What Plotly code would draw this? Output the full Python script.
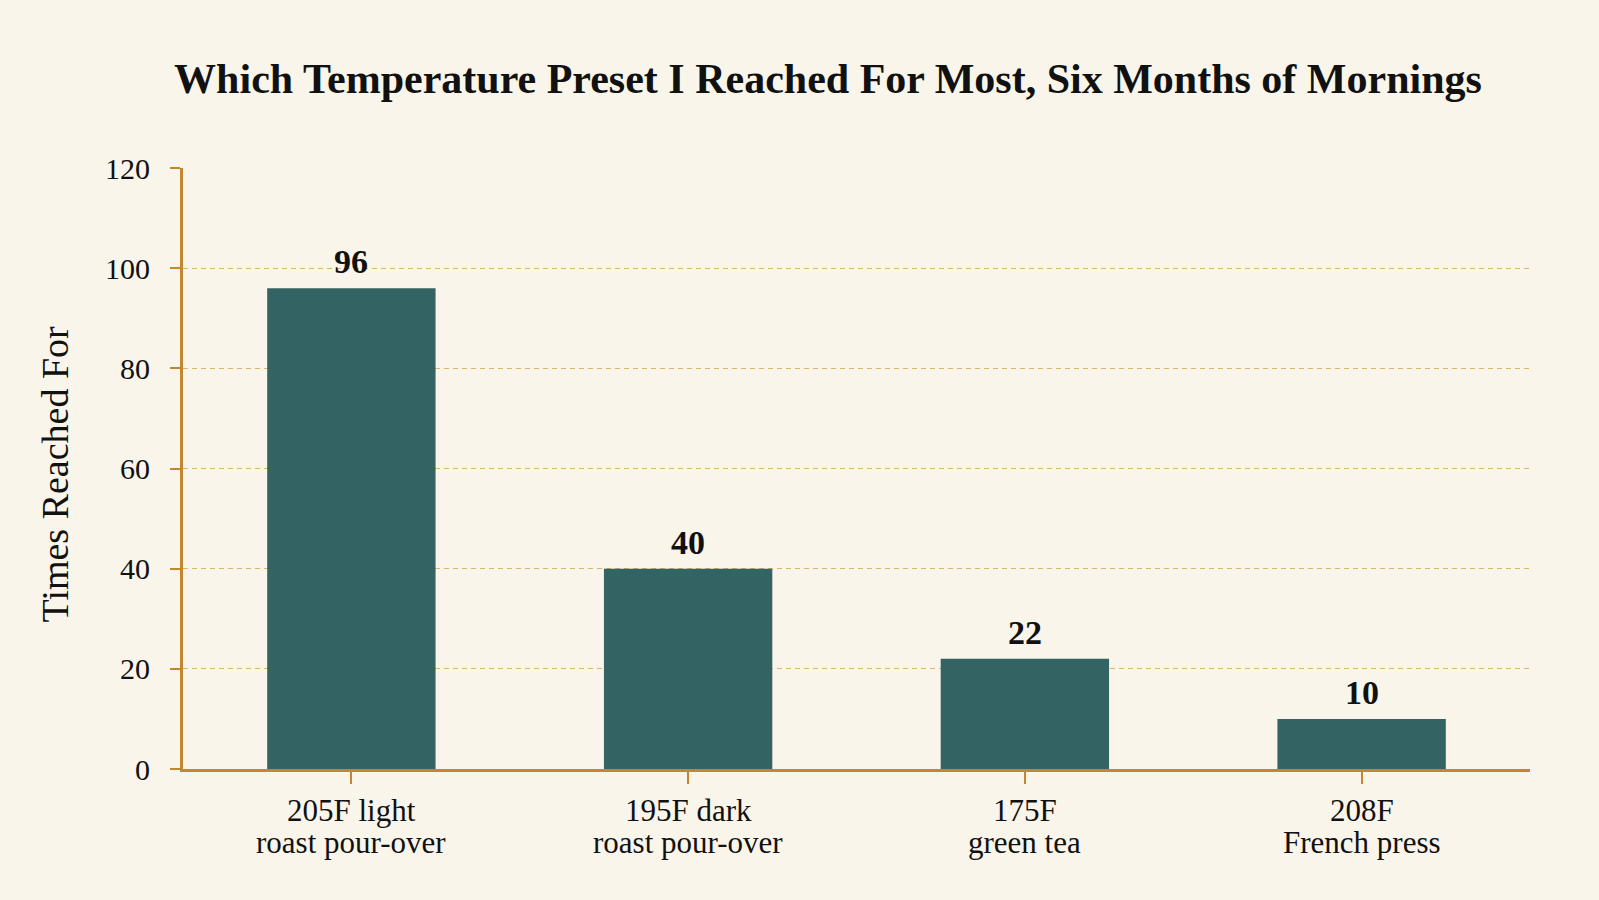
import plotly.graph_objects as go

categories = ["205F light roast pour-over", "195F dark roast pour-over", "175F green tea", "208F French press"]
label_line1 = ["205F light", "195F dark", "175F", "208F"]
label_line2 = ["roast pour-over", "roast pour-over", "green tea", "French press"]
values = [96, 40, 22, 10]
y_ticks = [0, 20, 40, 60, 80, 100, 120]

title_text = "Which Temperature Preset I Reached For Most, Six Months of Mornings"
y_title = "Times Reached For"

BG = "#faf5eb"
BAR = "#336362"
AXIS = "#c4862e"
GRID = "#ddb46c"
INK = "#111111"
FONT = "Liberation Serif"

fig = go.Figure()
fig.add_trace(go.Bar(
    x=categories,
    y=values,
    width=0.5,
    marker=dict(color=BAR, line=dict(width=0)),
    hoverinfo="x+y",
))

annotations = []
for c, v in zip(categories, values):
    annotations.append(dict(
        x=c, y=v, xref="x", yref="y", text=str(v), showarrow=False,
        yanchor="bottom", yshift=6,
        font=dict(family=FONT, size=34, color=INK, weight="bold"),
    ))
for c, l1, l2 in zip(categories, label_line1, label_line2):
    annotations.append(dict(
        x=c, y=0, xref="x", yref="paper", text=l1, showarrow=False,
        yanchor="middle", yshift=-41,
        font=dict(family=FONT, size=31, color=INK),
    ))
    annotations.append(dict(
        x=c, y=0, xref="x", yref="paper", text=l2, showarrow=False,
        yanchor="middle", yshift=-73,
        font=dict(family=FONT, size=31, color=INK),
    ))
annotations.append(dict(
    x=0, y=0.5, xref="paper", yref="paper", text=y_title, showarrow=False,
    textangle=-90, xanchor="center", yanchor="middle", xshift=-129, yshift=-6,
    font=dict(family=FONT, size=38, color=INK),
))

fig.update_layout(
    width=1583,
    height=884,
    paper_bgcolor=BG,
    plot_bgcolor=BG,
    margin=dict(l=175, r=61, t=160, b=123),
    title=dict(
        text=title_text,
        font=dict(family=FONT, size=42, color=INK, weight="bold"),
        x=0.518, xref="container", xanchor="center",
        y=0.921, yref="container", yanchor="middle",
    ),
    showlegend=False,
    annotations=annotations,
)

fig.update_xaxes(
    showline=True, linecolor=AXIS, linewidth=3,
    ticks="outside", ticklen=12, tickwidth=2, tickcolor=AXIS,
    showticklabels=False,
    showgrid=False,
)
fig.update_yaxes(
    range=[0, 120],
    tickvals=y_ticks,
    showline=True, linecolor=AXIS, linewidth=3,
    ticks="outside", ticklen=10, tickwidth=2, tickcolor=AXIS,
    tickfont=dict(family=FONT, size=30, color=INK),
    ticklabelstandoff=14,
    showgrid=True, gridcolor=GRID, griddash="5px,4px", gridwidth=1.4,
    zeroline=False,
)

fig.write_html(
    "out.html",
    post_script="document.body.style.background='%s';" % BG,
)
